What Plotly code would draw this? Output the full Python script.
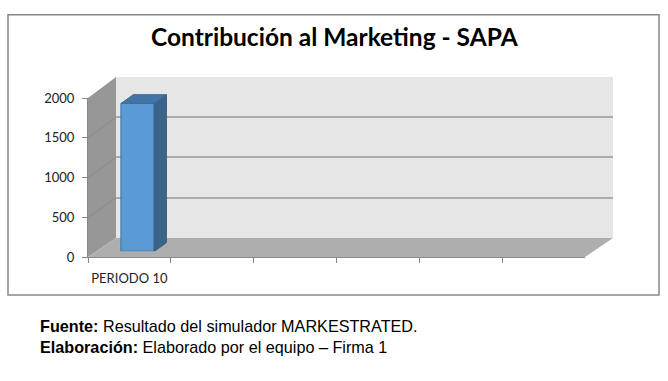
import plotly.graph_objects as go

# ---------------- data ----------------
CATEGORIES = ["PERIODO 10", " ", "  ", "   ", "    ", "     "]
VALUES = [1855, None, None, None, None, None]
Y_TICKS = [0, 500, 1000, 1500, 2000]
Y_MAX = 2000
TITLE = "Contribución al Marketing - SAPA"
FOOTER_1 = "<b>Fuente:</b> Resultado del simulador MARKESTRATED."
FOOTER_2 = "<b>Elaboración:</b> Elaborado por el equipo – Firma 1"

# ---------------- geometry (pixels in the 668x381 page) ----------------
W, H = 668, 381
FX0, FX1, FY0, FY1 = 88, 585, 260, 94      # front plane: x extent, y of 0 / y of max
BX0, BX1, BY0, BY1 = 116, 613, 240, 72     # back wall
T_BAR = 0.3                                  # depth position of bar front face
BAR_DEPTH = 0.43                             # bar depth as fraction of floor depth
BAR_WIDTH = 0.4


def px(x):
    return x / W


def py(y):
    return 1 - y / H


def lerp(a, b, t):
    return a + (b - a) * t


# bar plane
PX0, PX1 = lerp(FX0, BX0, T_BAR), lerp(FX1, BX1, T_BAR)
PY0, PY1 = lerp(FY0, BY0, T_BAR), lerp(FY1, BY1, T_BAR)
n = len(CATEGORIES)
px_per_cat = (PX1 - PX0) / n
px_per_unit = (PY0 - PY1) / Y_MAX
ddx = BAR_DEPTH * (BX0 - FX0) / px_per_cat
ddy = BAR_DEPTH * ((FY0 - BY0) + (FY1 - BY1)) / 2 / px_per_unit

FONT = "Lato"
GRID = "#ABABAB"
EDGE = "#878787"

fig = go.Figure()

# invisible trace to register categories on the front axis
fig.add_trace(go.Scatter(x=CATEGORIES, y=[None] * n, mode="markers",
                         xaxis="x", yaxis="y", showlegend=False, hoverinfo="skip"))

# bars (front faces) on bar plane
idx = [i for i, v in enumerate(VALUES) if v is not None]
vals = [VALUES[i] for i in idx]
fig.add_trace(go.Bar(x=idx, y=vals, width=BAR_WIDTH, xaxis="x3", yaxis="y3",
                     marker=dict(color="#5B9BD5", line=dict(color="#41719C", width=1)),
                     showlegend=False, hoverinfo="skip"))
# side and top faces
hw = BAR_WIDTH / 2
for i, v in zip(idx, vals):
    fig.add_trace(go.Scatter(
        x=[i + hw, i + hw + ddx, i + hw + ddx, i + hw, i + hw],
        y=[0, ddy, v + ddy, v, 0],
        fill="toself", fillcolor="#3A6588", mode="lines",
        line=dict(color="#365F85", width=1),
        xaxis="x3", yaxis="y3", showlegend=False, hoverinfo="skip"))
    fig.add_trace(go.Scatter(
        x=[i - hw, i - hw + ddx, i + hw + ddx, i + hw, i - hw],
        y=[v, v + ddy, v + ddy, v, v],
        fill="toself", fillcolor="#4473A6", mode="lines",
        line=dict(color="#3D6A96", width=1),
        xaxis="x3", yaxis="y3", showlegend=False, hoverinfo="skip"))

shapes = []
# outer border
shapes.append(dict(type="rect", xref="paper", yref="paper",
                   x0=px(8), x1=px(659), y0=py(7), y1=py(299.5),
                   line=dict(color="#888888", width=1.5), layer="below"))
# left wall
shapes.append(dict(type="path", xref="paper", yref="paper", layer="below",
                   path=f"M{px(FX0)},{py(FY0)} L{px(FX0)},{py(FY1)} L{px(BX0)},{py(BY1)} L{px(BX0)},{py(BY0)} Z",
                   fillcolor="#979797", line=dict(width=0)))
# left wall grid diagonals
for v in Y_TICKS[1:-1]:
    yf = FY0 - (FY0 - FY1) * v / Y_MAX
    yb = BY0 - (BY0 - BY1) * v / Y_MAX
    shapes.append(dict(type="line", xref="paper", yref="paper", layer="below",
                       x0=px(FX0), y0=py(yf), x1=px(BX0), y1=py(yb),
                       line=dict(color="#8A8A8A", width=1)))
# floor
shapes.append(dict(type="path", xref="paper", yref="paper", layer="below",
                   path=f"M{px(FX0)},{py(FY0)} L{px(FX1)},{py(FY0)} L{px(BX1)},{py(BY0)} L{px(BX0)},{py(BY0)} Z",
                   fillcolor="#AEAEAE", line=dict(width=0)))
# back wall
shapes.append(dict(type="rect", xref="x2", yref="y2", layer="below",
                   x0=-0.5, x1=n - 0.5, y0=0, y1=Y_MAX,
                   fillcolor="#E6E6E6", line=dict(width=0)))

annotations = [
    dict(text=TITLE, xref="paper", yref="paper", x=px(334.5), y=py(30),
         xanchor="center", yanchor="middle", showarrow=False,
         font=dict(family=FONT, size=24.5, color="#000000", weight="bold")),
    dict(text=FOOTER_1, xref="paper", yref="paper", x=px(38), y=py(332),
         xanchor="left", yanchor="middle", showarrow=False,
         font=dict(family="Liberation Sans, Arial", size=16.2, color="#000000")),
    dict(text=FOOTER_2, xref="paper", yref="paper", x=px(38), y=py(354),
         xanchor="left", yanchor="middle", showarrow=False,
         font=dict(family="Liberation Sans, Arial", size=16.2, color="#000000")),
]

fig.update_layout(
    width=W, height=H,
    margin=dict(l=0, r=0, t=0, b=0),
    paper_bgcolor="#FFFFFF", plot_bgcolor="rgba(0,0,0,0)",
    showlegend=False,
    shapes=shapes, annotations=annotations,
    bargap=0,
    xaxis=dict(domain=[px(FX0), px(FX1)], anchor="y", type="category",
               categoryorder="array", categoryarray=CATEGORIES,
               range=[-0.5, n - 0.5], tickson="boundaries", tickangle=0,
               ticks="outside", ticklen=5, tickcolor=EDGE, tickwidth=1,
               showline=True, linecolor=EDGE, linewidth=1, showgrid=False,
               ticklabelstandoff=9,
               tickfont=dict(family=FONT, size=13, color="#222222"),
               fixedrange=True),
    yaxis=dict(domain=[py(FY0), py(FY1)], anchor="x", range=[0, Y_MAX],
               tickvals=Y_TICKS, ticks="outside", ticklen=5, tickcolor=EDGE,
               showline=True, linecolor=EDGE, linewidth=1, showgrid=False,
               zeroline=False, ticklabelstandoff=5,
               tickfont=dict(family=FONT, size=13, color="#222222"),
               fixedrange=True),
    xaxis2=dict(domain=[px(BX0), px(BX1)], anchor="y2", range=[-0.5, n - 0.5],
                visible=False, fixedrange=True),
    yaxis2=dict(domain=[py(BY0), py(BY1)], anchor="x2", range=[0, Y_MAX],
                tickvals=Y_TICKS, showticklabels=False, ticks="",
                showgrid=True, gridcolor=GRID, gridwidth=2, zeroline=False,
                showline=False, fixedrange=True),
    xaxis3=dict(domain=[px(PX0), px(PX1)], anchor="y3", range=[-0.5, n - 0.5],
                visible=False, fixedrange=True),
    yaxis3=dict(domain=[py(PY0), py(PY1)], anchor="x3", range=[0, Y_MAX],
                visible=False, fixedrange=True),
)

fig.write_html("out.html",
               config={"displayModeBar": False},
               post_script="document.body.style.margin='0';document.body.style.overflow='hidden';")
